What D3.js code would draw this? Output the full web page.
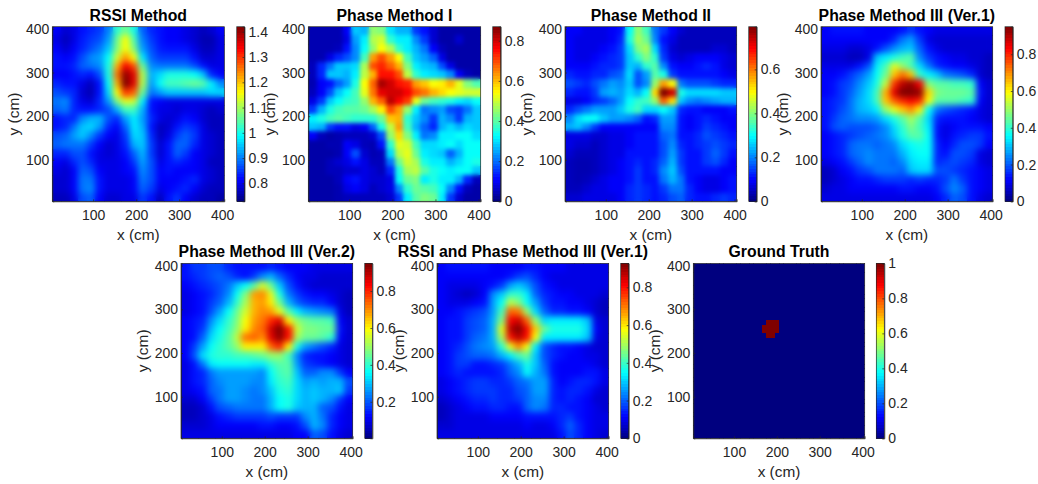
<!DOCTYPE html>
<html><head><meta charset="utf-8">
<script src="https://cdn.jsdelivr.net/npm/d3@7"></script>
<style>html,body{margin:0;padding:0;background:#fff}svg{display:block}text{font-family:"Liberation Sans",Arial,sans-serif;fill:#262626}</style>
</head><body><svg id="c" width="1038" height="484"></svg>
<script>
// Readings as percent of each panel's colour range; rows run top (y=395) to bottom (y=15), columns x=15..395
const xCentres=[15,35,55,75,95,115,135,155,175,195,215,235,255,275,295,315,335,355,375,395];
const yCentres=[395,375,355,335,315,295,275,255,235,215,195,175,155,135,115,95,75,55,35,15];
const rssiLevels=[
[12,8,10,14,16,18,25,42,48,40,22,16,14,12,12,10,8,6,8,12],
[10,6,10,15,18,20,28,48,62,45,25,18,14,12,12,10,8,5,5,10],
[12,8,12,16,20,24,32,50,62,50,28,20,15,14,14,14,10,6,6,10],
[14,12,14,20,26,28,38,58,72,62,35,22,18,18,18,18,14,8,8,10],
[14,14,16,22,24,26,40,70,88,80,48,26,24,24,24,24,20,14,10,10],
[12,12,14,16,14,20,40,76,98,90,55,30,34,40,40,40,38,32,16,12],
[16,14,14,10,6,14,38,70,100,90,55,28,38,44,44,46,48,46,36,26],
[20,18,16,8,5,14,34,62,82,78,48,24,28,32,32,32,32,32,34,34],
[24,26,16,10,8,16,28,50,60,58,36,14,12,10,10,10,10,10,10,10],
[22,24,16,14,14,16,20,30,44,44,30,14,10,10,8,10,10,8,6,8],
[14,16,16,26,30,30,20,16,28,36,28,16,10,8,10,14,12,8,6,6],
[14,16,24,32,34,28,16,12,22,36,30,14,6,8,14,18,16,10,6,6],
[20,22,28,32,26,18,12,10,18,34,32,16,6,10,18,22,18,10,8,6],
[22,24,24,24,18,12,8,10,16,30,32,18,8,14,22,22,16,10,8,6],
[16,16,20,20,14,10,8,10,14,22,30,18,8,14,22,18,12,10,8,6],
[12,10,16,20,16,10,10,10,12,18,28,20,10,14,16,14,12,10,6,6],
[10,8,12,22,20,12,10,10,12,14,26,20,12,14,12,12,12,10,8,6],
[8,8,12,24,24,14,10,10,10,12,24,20,12,12,12,14,16,10,8,6],
[8,8,12,24,26,14,10,10,10,12,22,18,10,12,14,16,12,8,6,6],
[6,6,10,20,22,12,8,8,10,10,18,14,6,14,18,12,8,6,6,4]];
const phase1Levels=[
[5,5,5,5,12,32,30,52,50,35,30,30,18,14,8,4,4,4,4,4],
[5,5,5,5,10,28,36,55,58,42,36,36,26,18,8,4,4,8,4,4],
[5,5,5,6,14,26,38,52,62,55,42,36,30,24,12,6,4,4,4,4],
[5,5,10,16,20,26,44,72,80,72,62,44,32,28,22,10,4,4,4,4],
[6,16,24,32,32,34,54,80,84,78,70,50,36,32,30,20,10,4,4,4],
[6,16,32,32,30,36,56,70,86,86,80,56,42,36,34,32,26,12,6,4],
[5,12,14,22,28,40,62,78,96,92,86,84,72,68,62,64,70,60,50,45],
[6,12,20,32,38,44,60,76,90,92,92,88,80,76,70,66,62,60,58,58],
[10,18,32,38,42,44,52,70,78,94,88,82,60,48,44,42,40,36,34,38],
[18,30,40,44,46,46,48,54,64,80,72,52,36,24,26,28,20,18,24,32],
[36,40,44,46,44,42,42,42,48,68,70,42,32,26,18,30,26,18,30,32],
[32,30,18,14,14,10,12,22,40,56,72,44,30,22,16,30,34,30,34,32],
[12,6,4,5,6,6,6,8,20,52,66,50,36,24,26,36,36,38,38,34],
[4,4,5,5,12,10,6,5,14,42,60,58,44,34,34,36,38,34,38,38],
[4,4,4,5,12,20,8,5,6,34,56,60,48,36,34,32,22,30,38,38],
[4,4,6,8,10,14,10,6,6,24,48,58,54,40,36,36,30,34,38,40],
[4,4,6,6,8,8,10,8,6,16,40,54,56,46,40,38,36,38,38,32],
[4,4,4,6,12,14,10,8,8,10,38,48,50,36,40,36,36,30,16,6],
[4,4,4,5,10,12,10,6,8,10,26,42,48,46,44,38,26,14,6,4],
[4,4,4,5,6,6,6,6,6,8,18,36,46,50,48,36,18,8,4,4]];
const phase2Levels=[
[12,12,10,10,10,12,14,38,52,44,24,18,12,8,6,6,6,6,6,6],
[12,10,10,10,10,12,16,40,54,48,26,14,10,6,6,6,6,6,6,6],
[12,10,10,10,12,14,18,34,50,54,34,16,8,6,6,6,6,8,8,6],
[12,10,10,12,14,16,18,32,42,50,42,18,10,8,10,12,12,12,10,8],
[12,12,12,14,16,16,18,32,30,42,46,26,14,12,12,14,16,14,10,8],
[16,14,14,16,16,20,22,34,20,28,46,40,18,14,14,14,14,14,12,10],
[20,18,16,20,24,28,26,32,20,26,52,72,62,24,20,20,20,18,16,16],
[16,14,14,18,28,30,28,34,30,38,66,100,92,40,34,34,34,34,32,32],
[10,10,12,16,18,22,28,38,42,44,52,78,66,32,26,24,26,28,30,30],
[16,20,24,28,28,28,32,40,44,34,34,38,32,16,14,14,12,12,12,14],
[26,34,38,38,32,28,28,26,22,14,16,28,28,14,12,14,16,14,12,12],
[30,32,26,18,12,12,12,12,12,12,12,26,26,14,12,14,18,16,14,12],
[10,10,10,8,8,10,10,12,14,14,14,22,24,14,14,16,20,18,16,14],
[10,8,8,6,8,10,10,12,14,14,14,20,26,16,14,16,18,20,18,16],
[8,6,6,6,8,10,10,14,14,14,14,20,28,18,14,14,18,22,18,14],
[6,5,5,6,8,10,12,14,16,14,16,22,30,18,14,14,18,20,16,12],
[6,5,5,6,8,10,12,14,18,14,16,26,32,20,14,14,14,14,12,12],
[6,5,6,8,10,12,12,14,18,14,14,24,30,24,14,12,10,10,12,14],
[6,6,8,10,10,12,12,16,18,16,14,18,24,24,16,12,10,10,12,14],
[8,8,10,10,10,10,12,16,18,16,14,16,20,22,16,14,14,16,18,16]];
const phase3v1Levels=[
[12,14,14,14,14,12,12,12,12,14,18,14,12,10,10,10,10,10,10,10],
[12,12,12,12,12,12,12,12,16,24,28,18,10,8,8,8,8,8,8,8],
[10,10,10,8,8,10,14,20,26,30,32,22,14,10,8,8,8,8,8,8],
[8,8,8,6,6,10,32,36,40,44,46,26,18,14,12,10,10,8,8,6],
[10,10,10,10,14,20,36,44,60,52,44,34,24,16,14,12,12,10,8,6],
[12,12,14,18,22,28,38,48,68,76,68,42,36,32,24,22,20,16,8,6],
[12,14,18,20,26,32,40,56,82,94,98,88,50,46,46,44,44,42,12,8],
[12,14,18,22,28,34,44,70,90,100,100,98,66,50,48,48,48,46,14,8],
[14,16,18,24,30,34,44,68,78,84,88,84,62,46,46,46,44,42,12,8],
[14,16,20,24,30,32,36,52,60,68,74,64,38,24,20,18,16,14,10,8],
[14,18,22,24,26,26,28,34,40,46,54,46,34,16,14,14,14,12,10,8],
[14,20,22,20,20,20,22,26,34,42,50,44,36,14,10,12,14,14,14,12],
[12,14,16,18,20,22,24,26,32,40,46,46,38,14,10,14,16,18,18,14],
[12,14,16,22,24,24,22,24,26,34,38,40,38,16,12,16,20,20,18,12],
[12,14,16,22,24,26,24,24,24,30,36,38,38,16,14,20,20,18,10,8],
[10,12,14,18,22,26,24,24,22,26,34,36,36,16,18,20,18,16,10,8],
[6,8,12,14,18,20,24,24,24,22,32,34,34,20,20,18,16,14,12,10],
[6,8,10,12,14,14,16,18,18,18,16,18,16,16,18,24,18,14,12,10],
[8,10,10,12,12,12,12,12,12,14,14,12,12,14,20,26,22,14,12,10],
[10,10,10,10,10,10,10,10,10,10,10,10,10,12,16,22,20,14,10,8]];
const phase3v2Levels=[
[14,18,18,20,20,16,14,14,14,14,16,14,12,12,12,10,10,10,10,10],
[14,16,18,20,22,20,16,14,18,26,30,22,16,12,10,10,8,8,8,8],
[12,14,16,18,20,24,32,38,46,58,48,32,20,14,10,8,8,8,8,8],
[10,12,14,16,20,26,38,50,72,74,60,40,24,18,14,12,12,10,8,6],
[10,12,14,18,22,30,42,54,70,72,64,48,30,22,18,16,16,12,8,6],
[10,12,14,20,28,38,48,58,70,74,72,60,46,36,30,28,26,24,10,6],
[12,14,16,26,34,42,50,62,72,76,84,90,64,52,48,46,46,44,12,8],
[12,14,18,30,38,44,52,64,74,78,92,100,86,58,50,50,48,48,14,8],
[12,14,22,34,40,46,56,76,78,74,90,98,86,54,48,48,46,42,12,8],
[12,18,28,38,42,46,52,64,64,64,78,84,64,40,28,24,20,16,10,8],
[12,20,34,40,42,42,44,44,46,48,52,52,44,26,16,14,14,12,10,8],
[10,14,24,36,38,38,38,38,36,36,42,46,46,28,18,16,14,12,10,8],
[10,14,16,24,28,28,28,28,28,26,38,44,46,32,22,22,26,26,18,12],
[10,14,16,22,26,28,28,28,26,26,36,42,44,34,28,30,28,30,30,20],
[10,12,14,22,24,28,28,26,24,26,32,40,42,34,30,32,30,30,32,18],
[8,8,12,18,24,28,28,26,24,24,30,38,40,34,30,32,30,26,18,12],
[6,6,8,14,20,22,24,24,24,24,30,38,40,32,30,30,22,20,14,10],
[6,6,8,10,14,16,18,18,18,18,20,18,18,18,26,30,24,16,12,10],
[8,8,8,10,12,12,12,12,12,14,14,12,12,14,20,30,26,16,12,10],
[10,10,10,10,10,10,10,10,10,10,10,10,10,12,12,22,20,14,10,8]];
const rssiPhaseLevels=[
[12,14,14,14,14,14,12,12,12,12,14,14,12,12,12,10,10,10,10,10],
[12,12,12,12,12,12,12,12,14,18,20,16,12,10,10,10,10,10,10,10],
[12,10,10,10,10,12,14,18,28,32,28,20,14,12,10,10,10,10,10,10],
[12,10,8,6,8,12,26,32,42,42,36,22,16,14,12,12,10,10,10,8],
[12,10,10,10,12,14,28,38,56,50,38,28,18,14,14,12,12,10,8,6],
[12,12,14,16,18,20,28,44,78,76,52,34,22,16,16,14,14,12,8,6],
[12,14,14,18,20,22,30,50,88,92,78,52,34,36,36,36,36,32,10,8],
[12,14,14,18,20,22,30,60,94,100,88,68,48,40,40,40,40,34,12,8],
[12,14,14,18,22,24,30,54,86,94,86,62,36,36,36,36,36,32,10,8],
[12,14,16,20,24,26,28,42,60,74,62,36,20,16,14,14,12,10,8,8],
[12,14,18,20,22,22,24,30,36,44,48,32,20,16,14,12,12,10,10,8],
[12,14,18,18,14,14,16,18,24,30,40,32,22,14,12,12,12,12,10,8],
[12,14,16,14,14,14,14,16,22,26,38,30,24,14,12,12,12,14,14,10],
[10,12,14,16,18,18,16,16,18,22,24,28,28,16,12,14,16,16,14,10],
[10,12,14,16,18,18,18,16,16,20,22,28,28,16,14,16,16,14,10,8],
[8,10,12,14,16,16,18,16,16,18,22,26,26,16,14,16,14,12,8,8],
[6,8,10,12,14,14,16,16,14,14,22,26,24,16,16,14,14,12,10,8],
[6,8,10,10,10,10,12,12,12,12,14,14,14,14,16,18,14,12,10,10],
[8,8,10,10,10,10,10,10,10,10,12,10,10,12,16,22,16,12,10,10],
[10,10,10,10,10,10,10,10,10,10,10,10,10,10,14,20,16,12,10,8]];
// Ground truth occupied cells on the 10 cm grid: [y, x centres]
const truthRows=[[270,[180,190,200]],[260,[170,180,190,200]],[250,[170,180,190,200]],[240,[180,190]]];
const truthBackground=0;
const truthPeak=100;
const axisTicks=[100,200,300,400];
const titles=["RSSI Method","Phase Method I","Phase Method II","Phase Method III (Ver.1)","Phase Method III (Ver.2)","RSSI and Phase Method III (Ver.1)","Ground Truth"];
const colourRanges=[[0.729,1.42],[0,0.87],[0,0.794],[0,0.95],[0.002,0.95],[0,0.927],[0,1]];
const colourTicks=[[0.8,0.9,1,1.1,1.2,1.3,1.4],[0,0.2,0.4,0.6,0.8],[0,0.2,0.4,0.6],[0,0.2,0.4,0.6,0.8],[0.2,0.4,0.6,0.8],[0,0.2,0.4,0.6,0.8],[0,0.2,0.4,0.6,0.8,1]];

// layout (pixels)
const topRow={y0:26.7,y1:201.3}, botRow={y0:263.4,y1:438.3};
const frames=[
 {x0:52.3,x1:224.3,c0:236.7,c1:244.5,...topRow},
 {x0:308.3,x1:480.7,c0:492.7,c1:500.7,...topRow},
 {x0:565,x1:736.7,c0:748.7,c1:756.7,...topRow},
 {x0:821,x1:992.7,c0:1005,c1:1012.8,...topRow},
 {x0:181,x1:352.7,c0:364.7,c1:372.4,...botRow},
 {x0:437,x1:608.7,c0:620.7,c1:628.7,...botRow},
 {x0:693.3,x1:864.7,c0:876.3,c1:884.3,...botRow}];
const blurs=[3,2.2,2.4,3,3,3,0];

const jet=d3.scaleLinear().domain([0,12.5,37.5,62.5,87.5,100])
  .range(["#00007f","#0000ff","#00ffff","#ffff00","#ff0000","#7f0000"]).clamp(true);
const truthXs=d3.range(10,401,10), truthYs=d3.range(400,9,-10);
const truthLevels=truthYs.map(y=>truthXs.map(x=>{
  const r=truthRows.find(d=>d[0]===y);
  return r&&r[1].includes(x)?truthPeak:truthBackground;}));
const grids=[rssiLevels,phase1Levels,phase2Levels,phase3v1Levels,phase3v2Levels,rssiPhaseLevels,truthLevels];

const svg=d3.select("#c");
const defs=svg.append("defs");
grids.forEach((grid,i)=>{
  const f=frames[i];
  const coarse=i<6, xs=coarse?xCentres:truthXs, ys=coarse?yCentres:truthYs, half=coarse?10:5;
  const x=d3.scaleLinear().domain([5,405]).range([f.x0,f.x1]);
  const y=d3.scaleLinear().domain([5,405]).range([f.y1,f.y0]);
  defs.append("clipPath").attr("id","clip"+i).append("rect")
    .attr("x",f.x0).attr("y",f.y0).attr("width",f.x1-f.x0).attr("height",f.y1-f.y0);
  if(blurs[i]>0) defs.append("filter").attr("id","blur"+i).attr("filterUnits","userSpaceOnUse")
    .attr("x",f.x0-20).attr("y",f.y0-20).attr("width",f.x1-f.x0+40).attr("height",f.y1-f.y0+40)
    .attr("color-interpolation-filters","sRGB")
    .append("feGaussianBlur").attr("stdDeviation",blurs[i]);
  const g=svg.append("g").attr("clip-path",`url(#clip${i})`);
  const cells=grid.flatMap((row,r)=>row.map((v,c)=>({v,xc:xs[c],yc:ys[r]})));
  const drawCells=sel=>sel.selectAll("rect").data(cells).join("rect")
    .attr("x",d=>x(d.xc-half)).attr("y",d=>y(d.yc+half))
    .attr("width",d=>x(d.xc+half)-x(d.xc-half)+0.6).attr("height",d=>y(d.yc-half)-y(d.yc+half)+0.6)
    .attr("shape-rendering","crispEdges")
    .attr("fill",d=>jet(d.v));
  if(blurs[i]>0){ g.append("g").call(drawCells); g.append("g").attr("filter",`url(#blur${i})`).call(drawCells); }
  else g.append("g").call(drawCells);

  // axes
  const axB=d3.axisBottom(x).tickValues(axisTicks).tickSize(-2).tickPadding(9).tickFormat(d3.format("d"));
  const axL=d3.axisLeft(y).tickValues(axisTicks).tickSize(-2).tickPadding(3).tickFormat(d3.format("d"));
  const gx=svg.append("g").attr("transform",`translate(0,${f.y1})`).call(axB);
  const gy=svg.append("g").attr("transform",`translate(${f.x0},0)`).call(axL);
  [gx,gy].forEach(a=>{a.selectAll("text").style("font-size","14px").attr("fill","#262626");
    a.selectAll(".domain,line").attr("stroke","#262626").attr("stroke-width",0.7);});
  svg.append("rect").attr("x",f.x0).attr("y",f.y0).attr("width",f.x1-f.x0).attr("height",f.y1-f.y0)
    .attr("fill","none").attr("stroke","#262626").attr("stroke-width",0.7);

  // labels
  svg.append("text").attr("x",(f.x0+f.x1)/2).attr("y",f.y0-6).attr("text-anchor","middle")
    .style("font-size","15.8px").style("font-weight","bold").style("fill","#000").text(titles[i]);
  svg.append("text").attr("x",(f.x0+f.x1)/2).attr("y",f.y1+39).attr("text-anchor","middle")
    .style("font-size","15.4px").text("x (cm)");
  svg.append("text").attr("transform",`translate(${f.x0-33},${(f.y0+f.y1)/2}) rotate(-90)`).attr("text-anchor","middle")
    .style("font-size","15.4px").text("y (cm)");

  // colourbar
  const dom=colourRanges[i];
  const cy=d3.scaleLinear().domain(dom).range([f.y1,f.y0]);
  const lv=d3.scaleLinear().domain(dom).range([0,100]);
  const steps=d3.range(0,64).map(k=>dom[0]+(dom[1]-dom[0])*k/64);
  const stepH=(dom[1]-dom[0])/64;
  svg.append("g").selectAll("rect").data(steps).join("rect")
    .attr("x",f.c0).attr("width",f.c1-f.c0)
    .attr("y",d=>cy(d+stepH)).attr("height",d=>cy(d)-cy(d+stepH)+0.4)
    .attr("shape-rendering","crispEdges")
    .attr("fill",d=>jet(lv(d+stepH/2)));
  const axC=d3.axisRight(cy).tickValues(colourTicks[i]).tickSize(-2).tickPadding(4).tickFormat(d=>String(d));
  const gc=svg.append("g").attr("transform",`translate(${f.c1},0)`).call(axC);
  gc.selectAll("text").style("font-size","14px").attr("fill","#262626");
  gc.selectAll(".domain,line").attr("stroke","#262626").attr("stroke-width",0.7);
  svg.append("rect").attr("x",f.c0).attr("y",f.y0).attr("width",f.c1-f.c0).attr("height",f.y1-f.y0)
    .attr("fill","none").attr("stroke","#262626").attr("stroke-width",0.7);
});
</script></body></html>
